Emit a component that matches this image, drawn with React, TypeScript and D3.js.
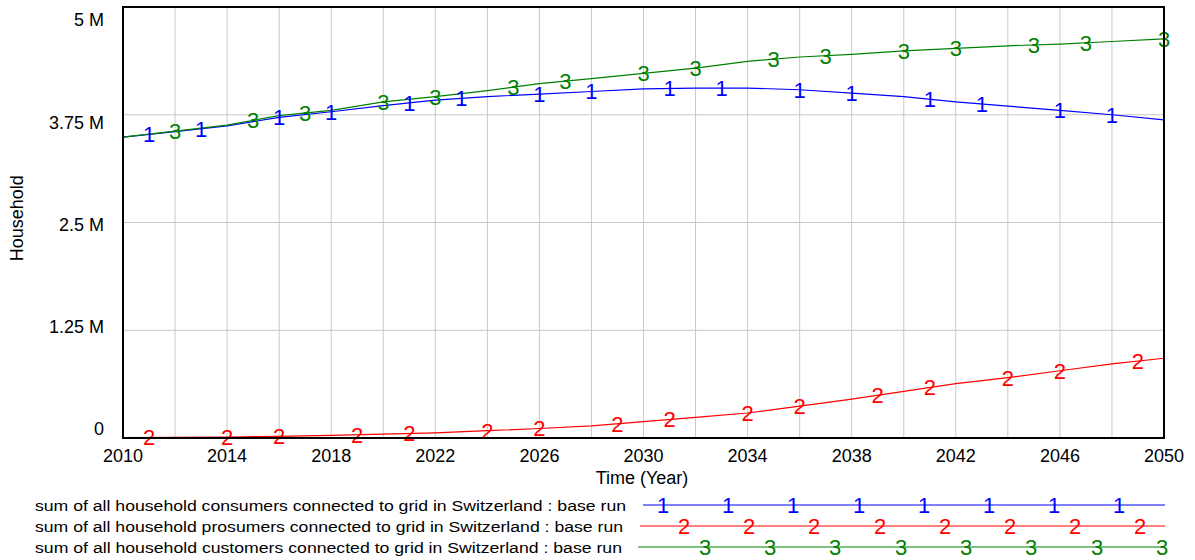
import React from "react";
import * as d3 from "d3";

const years = [2010, 2012, 2014, 2016, 2018, 2020, 2022, 2024, 2026, 2028, 2030, 2032, 2034, 2036, 2038, 2040, 2042, 2044, 2046, 2048, 2050];
const consumers = [3.49, 3.555, 3.62, 3.72, 3.785, 3.855, 3.92, 3.96, 3.99, 4.02, 4.05, 4.06, 4.06, 4.04, 4.0, 3.96, 3.9, 3.85, 3.8, 3.75, 3.69];
const prosumers = [0.005, 0.008, 0.01, 0.02, 0.03, 0.045, 0.06, 0.085, 0.11, 0.14, 0.19, 0.24, 0.29, 0.37, 0.45, 0.54, 0.63, 0.7, 0.78, 0.86, 0.925];
const customers = [3.49, 3.56, 3.63, 3.74, 3.8, 3.9, 3.96, 4.03, 4.11, 4.17, 4.23, 4.29, 4.37, 4.42, 4.45, 4.49, 4.52, 4.55, 4.57, 4.6, 4.63];

const seriesNames = [
  "sum of all household consumers connected to grid in Switzerland : base run",
  "sum of all household prosumers connected to grid in Switzerland : base run",
  "sum of all household customers connected to grid in Switzerland : base run",
];
const seriesColors = ["#0000ff", "#ff0000", "#008000"];
const seriesMarks = ["1", "2", "3"];
const markerYears = [
  [2011, 2013, 2016, 2018, 2021, 2023, 2026, 2028, 2031, 2033, 2036, 2038, 2041, 2043, 2046, 2048],
  [2011, 2014, 2016, 2019, 2021, 2024, 2026, 2029, 2031, 2034, 2036, 2039, 2041, 2044, 2046, 2049],
  [2012, 2015, 2017, 2020, 2022, 2025, 2027, 2030, 2032, 2035, 2037, 2040, 2042, 2045, 2047, 2050],
];

const xTicks = [2010, 2014, 2018, 2022, 2026, 2030, 2034, 2038, 2042, 2046, 2050];
const yTicks = [0, 1.25, 2.5, 3.75, 5];
const yTickLabels = ["0", "1.25 M", "2.5 M", "3.75 M", "5 M"];

const legendLineX = [[643, 1165], [640, 1165], [638, 1165]];
const legendMarkX = [
  [663, 728, 793, 859, 924, 989, 1054, 1119],
  [684, 749, 814, 880, 945, 1010, 1075, 1140],
  [705, 770, 835, 901, 966, 1031, 1097, 1162],
];

export default function App() {
  const x = d3.scaleLinear().domain([2010, 2050]).range([123, 1164]);
  const y = d3.scaleLinear().domain([0, 5]).range([438, 7]);
  const yLab = d3.scaleLinear().domain([0, 5]).range([429, 20]);
  const data = [consumers, prosumers, customers];
  const line = d3
    .line<number>()
    .x((_, i) => x(years[i]))
    .y((d) => y(d));
  const valueAt = (vals: number[], yr: number) => {
    const i = Math.min(years.length - 2, Math.floor((yr - 2010) / 2));
    const t = (yr - years[i]) / (years[i + 1] - years[i]);
    return vals[i] + (vals[i + 1] - vals[i]) * t;
  };
  const gridX = d3.range(2010, 2051, 2);
  const font = "Arial, 'Liberation Sans', sans-serif";
  const legendY = [505, 526, 547];
  const legendTextLen = [591, 588, 587];

  return (
    <svg
      width={1195}
      height={560}
      style={{ position: "absolute", left: 0, top: 0, background: "#fff" }}
      fontFamily={font}
    >
      <rect x={0} y={0} width={1195} height={560} fill="#fff" />
      {gridX.map((g) => (
        <line key={"gx" + g} x1={x(g)} x2={x(g)} y1={y(5)} y2={y(0)} stroke="#c8c8c8" strokeWidth={1} />
      ))}
      {yTicks.map((t) => (
        <line key={"gy" + t} x1={x(2010)} x2={x(2050)} y1={y(t)} y2={y(t)} stroke="#c8c8c8" strokeWidth={1} />
      ))}
      {data.map((vals, si) => (
        <path key={"p" + si} d={line(vals) || ""} fill="none" stroke={seriesColors[si]} strokeWidth={1.2} />
      ))}
      {data.map((vals, si) =>
        markerYears[si].map((yr) => (
          <text
            key={"m" + si + "-" + yr}
            x={x(yr)}
            y={y(valueAt(vals, yr))}
            dy="0.36em"
            textAnchor="middle"
            fontSize={22}
            fill={seriesColors[si]}
          >
            {seriesMarks[si]}
          </text>
        ))
      )}
      <rect
        x={x(2010)}
        y={y(5)}
        width={x(2050) - x(2010)}
        height={y(0) - y(5)}
        fill="none"
        stroke="#000"
        strokeWidth={2}
      />
      {yTicks.map((t, i) => (
        <text key={"yl" + t} x={104} y={yLab(t)} dy="0.36em" textAnchor="end" fontSize={18} fill="#000">
          {yTickLabels[i]}
        </text>
      ))}
      {xTicks.map((t) => (
        <text key={"xl" + t} x={x(t)} y={462} textAnchor="middle" fontSize={18} fill="#000">
          {t}
        </text>
      ))}
      <text x={642} y={484} textAnchor="middle" fontSize={18} fill="#000">
        Time (Year)
      </text>
      <text
        transform={`translate(23, ${y(2.55)}) rotate(-90)`}
        textAnchor="middle"
        fontSize={18}
        fill="#000"
      >
        Household
      </text>
      {seriesNames.map((name, si) => (
        <g key={"lg" + si}>
          <text
            x={35}
            y={legendY[si] + 6}
            fontSize={15.5}
            fill="#000"
            textLength={legendTextLen[si]}
            lengthAdjust="spacingAndGlyphs"
          >
            {name}
          </text>
          <line
            x1={legendLineX[si][0]}
            x2={legendLineX[si][1]}
            y1={legendY[si]}
            y2={legendY[si]}
            stroke={seriesColors[si]}
            strokeWidth={1.2}
          />
          {legendMarkX[si].map((mx) => (
            <text
              key={"lm" + mx}
              x={mx}
              y={legendY[si]}
              dy="0.36em"
              textAnchor="middle"
              fontSize={22}
              fill={seriesColors[si]}
            >
              {seriesMarks[si]}
            </text>
          ))}
        </g>
      ))}
    </svg>
  );
}
